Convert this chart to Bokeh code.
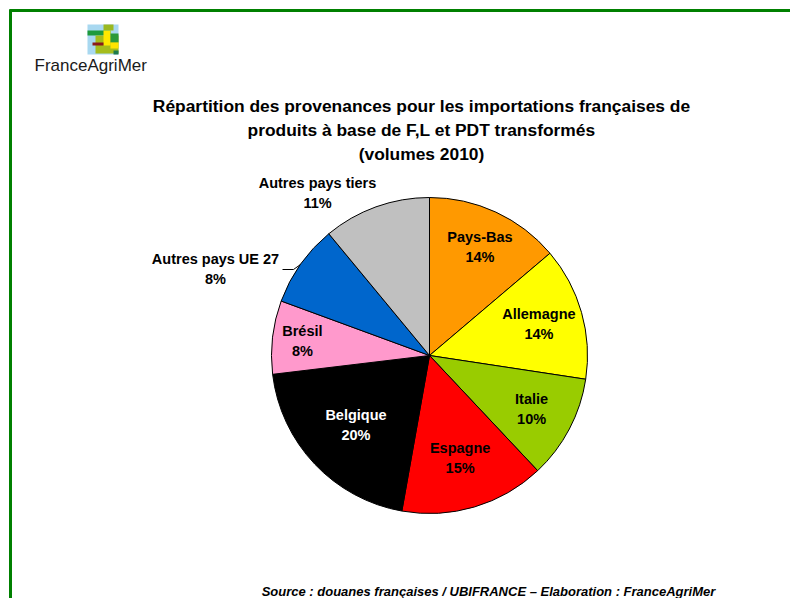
import math
from bokeh.plotting import figure
from bokeh.models import Range1d, ColumnDataSource
from bokeh.core.properties import value
from bokeh.embed import file_html
from bokeh.resources import INLINE

# ---------------- data ----------------
countries = ["Pays-Bas", "Allemagne", "Italie", "Espagne", "Belgique",
             "Brésil", "Autres pays UE 27", "Autres pays tiers"]
shares = [13.8, 13.6, 10.6, 14.8, 20.3, 7.5, 8.4, 11.0]
pct_labels = ["14%", "14%", "10%", "15%", "20%", "8%", "8%", "11%"]
colors = ["#FF9900", "#FFFF00", "#99CC00", "#FF0000", "#000000",
          "#FF99CC", "#0066CC", "#C0C0C0"]
title_lines = ["Répartition des provenances pour les importations françaises de",
               "produits à base de F,L et PDT transformés",
               "(volumes 2010)"]
source_text = "Source : douanes françaises / UBIFRANCE – Elaboration : FranceAgriMer"

# ---------------- layout ----------------
W, H = 790, 598
def X(px):  # page pixel -> data x
    return px
def Y(py):  # page pixel -> data y (y up)
    return H - py

CX, CY, R = X(429), Y(355), 158
label_r = [0.76, 0.72, 0.73, 0.68, 0.64, 0.81]  # radial position of inside labels
FONT = value("Liberation Sans")
LBL = "14.5px"

p = figure(width=W, height=H, x_range=Range1d(0, W), y_range=Range1d(0, H),
           output_backend="svg", toolbar_location=None, min_border=0)
p.axis.visible = False
p.grid.visible = False
p.outline_line_color = None
p.background_fill_color = "white"
p.border_fill_color = "white"

# green frame (top + left)
p.segment(x0=[X(9), X(10)], y0=[Y(10), Y(9)], x1=[X(790), X(10)], y1=[Y(10), Y(598)],
          line_color="#008000", line_width=3)

# logo icon (decorative blocks)
blocks = [  # left, top, right, bottom, color (page px)
    (87, 24, 118, 54, "#A8D8F0"),
    (103, 24, 113, 30, "#9AB820"),
    (87, 30, 110, 35, "#1E9A3C"),
    (95, 35, 118, 53, "#A4BC1C"),
    (103, 30, 110, 45, "#FFE800"),
    (110, 33, 118, 42, "#2A9A3A"),
    (92, 42, 103, 45, "#8B1A1A"),
    (110, 42, 118, 48, "#FFE400"),
    (113, 50, 118, 54, "#1E7A4C"),
]
p.quad(left=[X(b[0]) for b in blocks], right=[X(b[2]) for b in blocks],
       top=[Y(b[1]) for b in blocks], bottom=[Y(b[3]) for b in blocks],
       fill_color=[b[4] for b in blocks], line_color=None)
p.text(x=[X(34)], y=[Y(65)], text=["FranceAgriMer"], text_font=FONT,
       text_font_size="17px", text_color="#1a1a1a", text_baseline="middle", text_align="left")

# title
for i, t in enumerate(title_lines):
    p.text(x=[X(421)], y=[Y(105 + 24 * i)], text=[t], text_font=FONT, text_font_style="bold",
           text_font_size="17.4px", text_color="black", text_align="center", text_baseline="middle")

# pie
total = sum(shares)
cum = [0.0]
for s in shares:
    cum.append(cum[-1] + s / total)
starts = [math.pi / 2 - 2 * math.pi * c for c in cum[:-1]]
ends = [math.pi / 2 - 2 * math.pi * c for c in cum[1:]]
src = ColumnDataSource(dict(start=starts, end=ends, color=colors))
p.wedge(x=CX, y=CY, radius=R, start_angle="start", end_angle="end", direction="clock",
        fill_color="color", line_color="black", line_width=1, source=src)

# inside labels
for i in range(6):
    mid = (starts[i] + ends[i]) / 2
    lx = CX + label_r[i] * R * math.cos(mid)
    ly = CY + label_r[i] * R * math.sin(mid)
    col = "white" if colors[i] == "#000000" else "black"
    p.text(x=[lx, lx], y=[ly + 10, ly - 10], text=[countries[i], pct_labels[i]], text_font=FONT,
           text_font_style="bold", text_font_size=LBL, text_color=col,
           text_align="center", text_baseline="middle")

# outside labels
out_pos = {6: (215, 268), 7: (317, 192)}
for i, (px, py) in out_pos.items():
    p.text(x=[X(px), X(px)], y=[Y(py) + 10, Y(py) - 10], text=[countries[i], pct_labels[i]],
           text_font=FONT, text_font_style="bold", text_font_size=LBL, text_color="black",
           text_align="center", text_baseline="middle")
# leader line for Autres pays UE 27
p.line(x=[X(282), X(293), X(300)], y=[Y(269), Y(269), Y(264)], line_color="black", line_width=1)

# source
p.text(x=[X(488)], y=[Y(591)], text=[source_text], text_font=FONT, text_font_style="bold italic",
       text_font_size="13px", text_color="black", text_align="center", text_baseline="middle")

open("out.html", "w").write(file_html(p, INLINE))
